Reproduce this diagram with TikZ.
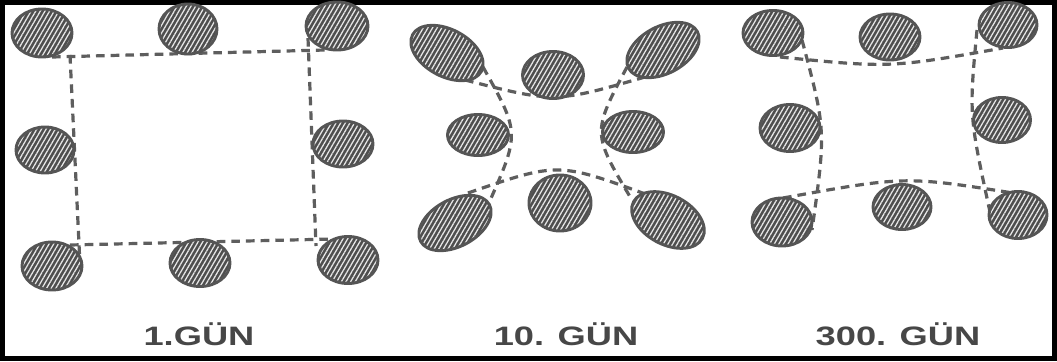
\documentclass[tikz,border=0pt]{standalone}
\usepackage{fontspec}
\setmainfont{Liberation Sans}
\usepackage{graphicx}
\usetikzlibrary{shapes.geometric,patterns.meta}
\definecolor{cellfill}{HTML}{4E4E4E}
\definecolor{cellline}{HTML}{555555}
\definecolor{hatch}{HTML}{E6E6E6}
\definecolor{dashgrey}{HTML}{5E5E5E}
\definecolor{labelgrey}{HTML}{474747}
\begin{document}
\begin{tikzpicture}[x=0.75pt,y=-0.75pt,
  cell/.style={ellipse, draw=cellline, line width=2.2pt, preaction={fill=cellfill},
    pattern={Lines[angle=60,distance=3pt,line width=0.95pt]}, pattern color=hatch,
    inner sep=0pt, outer sep=0pt},
  sz/.style 2 args={minimum width=#1*0.75pt, minimum height=#2*0.75pt},
  dashline/.style={draw=dashgrey, line width=2.4pt, dash pattern=on 6.5pt off 4.5pt},
  daylabel/.style={anchor=base, text=labelgrey, font=\fontsize{20}{24}\selectfont\bfseries, inner sep=0pt}]
\useasboundingbox (0,0) rectangle (1057,361);
\draw[line width=3.5pt] (2.5,2.5) rectangle (1054.5,358.5);

% ---------- panel 1 : square lattice ----------
\coordinate (a1) at (52,57);   \coordinate (a2) at (325,50);
\coordinate (a3) at (70,55);   \coordinate (a4) at (80,265);
\coordinate (a5) at (308,38);  \coordinate (a6) at (316,246);
\coordinate (a7) at (70,245);  \coordinate (a8) at (334,239);
\draw[dashline] (a1) -- (a2);
\draw[dashline] (a3) -- (a4);
\draw[dashline] (a5) -- (a6);
\draw[dashline] (a7) -- (a8);

\node[cell, sz={60}{48}] (p1tl) at (42,33) {};
\node[cell, sz={58}{50}] (p1tm) at (188,29) {};
\node[cell, sz={62}{48}] (p1tr) at (337,26) {};
\node[cell, sz={58}{46}] (p1ml) at (45,150) {};
\node[cell, sz={60}{46}] (p1mr) at (343,144) {};
\node[cell, sz={60}{48}] (p1bl) at (52,266) {};
\node[cell, sz={60}{47}] (p1bm) at (200,263) {};
\node[cell, sz={60}{47}] (p1br) at (348,260) {};

% ---------- panel 2 : contracted ----------
\coordinate (b1) at (465,80);  \coordinate (b2) at (645,77);
\coordinate (b3) at (483,67);  \coordinate (b4) at (488,205);
\coordinate (b5) at (627,67);  \coordinate (b6) at (632,200);
\coordinate (b7) at (468,193); \coordinate (b8) at (648,195);
\draw[dashline] (b1) .. controls (555,103) .. (b2);
\draw[dashline] (b3) .. controls (520,133) .. (b4);
\draw[dashline] (b5) .. controls (592,133) .. (b6);
\draw[dashline] (b7) .. controls (558,162) .. (b8);

\node[cell, sz={78}{47}, rotate=-28] (p2tl) at (447,53) {};
\node[cell, sz={61}{47}] (p2tm) at (553,75) {};
\node[cell, sz={78}{47}, rotate=28] (p2tr) at (663,50) {};
\node[cell, sz={61}{41}] (p2ml) at (478,135) {};
\node[cell, sz={61}{41}] (p2mr) at (633,132) {};
\node[cell, sz={78}{47}, rotate=28] (p2bl) at (455,223) {};
\node[cell, sz={62}{56}] (p2bm) at (560,203) {};
\node[cell, sz={78}{49}, rotate=-28] (p2br) at (668,220) {};

% ---------- panel 3 : nearly restored ----------
\coordinate (c1) at (780,57);  \coordinate (c2) at (1003,48);
\coordinate (c3) at (802,40);  \coordinate (c4) at (812,230);
\coordinate (c5) at (977,30);  \coordinate (c6) at (990,212);
\coordinate (c7) at (783,198); \coordinate (c8) at (1013,193);
\draw[dashline] (c1) .. controls (890,68) .. (c2);
\draw[dashline] (c3) .. controls (826,130) .. (c4);
\draw[dashline] (c5) .. controls (969,115) .. (c6);
\draw[dashline] (c7) .. controls (905,176) .. (c8);

\node[cell, sz={60}{45}] (p3tl) at (773,33) {};
\node[cell, sz={60}{46}] (p3tm) at (890,37) {};
\node[cell, sz={58}{45}] (p3tr) at (1008,25) {};
\node[cell, sz={60}{47}] (p3ml) at (790,128) {};
\node[cell, sz={57}{45}] (p3mr) at (1002,120) {};
\node[cell, sz={60}{48}] (p3bl) at (782,222) {};
\node[cell, sz={58}{45}] (p3bm) at (902,207) {};
\node[cell, sz={58}{47}] (p3br) at (1018,215) {};

% ---------- labels ----------
\node[daylabel] (l1) at (199,345) {\scalebox{1.36}[1]{1.GÜN}};
\node[daylabel] (l2) at (566,345) {\scalebox{1.36}[1]{10. GÜN}};
\node[daylabel] (l3) at (898,345) {\scalebox{1.36}[1]{300. GÜN}};
\end{tikzpicture}
\end{document}
